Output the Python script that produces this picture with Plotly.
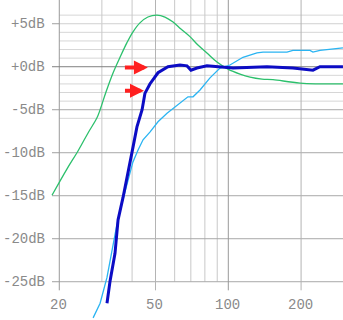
import math
import plotly.graph_objects as go

# ---------------- data ----------------
green_f = [18.66, 21.5, 23.9, 26.3, 28.6, 29.5, 31.2, 33.4, 35.7, 38.1, 40.3, 43.1, 46.5, 50.7,
           54.7, 59.1, 63.7, 69.4, 74.9, 81.6, 89.8, 99.7, 111.8, 123, 137.8, 153, 198, 298]
green_db = [-14.94, -11.9, -9.8, -7.7, -5.97, -5.0, -2.94, -0.7, 1.13, 2.8, 4.03, 5.1, 5.78, 6.0,
            5.78, 5.2, 4.38, 3.5, 2.52, 1.6, 0.55, -0.27, -0.85, -1.2, -1.43, -1.5, -1.9, -2.0]

blue_f = [31.5, 32.4, 34.0, 35.0, 36.7, 38.5, 40.0, 41.9, 44.0, 45.2, 47.4, 51.2, 56.3, 63.1, 67.5, 70.1,
          74.2, 81.6, 89.8, 104.6, 144.5, 185, 224, 239.4, 298]
blue_db = [-27.5, -25.0, -21.7, -17.8, -15.2, -12.4, -9.9, -7.0, -5.0, -3.1, -2.0, -0.7, 0.0, 0.2, 0.1, -0.4,
           -0.15, 0.1, 0.0, -0.15, 0.0, -0.15, -0.4, 0.0, 0.0]

cyan_f = [27.6, 29.5, 31.5, 33.4, 34.6, 36.3, 38.5, 40.3, 42.3, 44.4, 47.4, 51.2, 55.8, 60.2, 64.9, 68.1,
          71.5, 76.4, 84.0, 92.4, 101.6, 115.0, 131.4, 139.2, 174.9, 185, 217.7, 224, 239.4, 271, 298]
cyan_db = [-29.2, -27.5, -24.5, -20.5, -18.4, -15.9, -13.2, -11.1, -9.7, -8.5, -7.6, -6.4, -5.4, -4.7, -3.9, -3.5,
           -3.5, -2.7, -1.3, -0.15, 0.2, 1.1, 1.6, 1.7, 1.7, 1.9, 1.9, 1.7, 1.9, 2.1, 2.2]

# arrows mark the 0 dB and -3 dB points
arrow_f = [46.5, 44.8]
arrow_db = [-0.1, -2.8]

x_tick_vals = [20, 50, 100, 200]
x_tick_text = ["20", "50", "100", "200"]
x_minor_vals = [30, 40, 60, 70, 80, 90]

y_tick_vals = [5, 0, -5, -10, -15, -20, -25]
y_tick_text = ["+5dB", "+0dB", "-5dB", "-10dB", "-15dB", "-20dB", "-25dB"]
y_minor_vals = [6, 4, 3, 2, 1, -1, -2, -3, -4, -6]

# ---------------- layout constants ----------------
X_LO, X_HI = 1.0558, 2.4744          # log10 range
Y_LO, Y_HI = -29.45, 7.76
F_TICK = 18.66                       # where y tick marks start
F_LEFT = 20
F_RIGHT = 10 ** X_HI
DB_BOTTOM_MAJOR = -26.0
DB_BOTTOM_MINOR = -25.0

fig = go.Figure()


def seg(xs, ys, color, width=1, shape="linear"):
    fig.add_trace(go.Scatter(x=xs, y=ys, mode="lines", line=dict(color=color, width=width, shape=shape),
                             hoverinfo="skip", showlegend=False))


# horizontal minor lines
for v in y_minor_vals:
    seg([F_LEFT, F_RIGHT], [v, v], "#d6d6d6")
# vertical minor lines
for v in x_minor_vals:
    seg([v, v], [DB_BOTTOM_MINOR, Y_HI], "#c8c8c8")
# horizontal major lines
for v in y_tick_vals:
    if v == 0:
        continue
    col = "#d0d0d0" if v == 5 else "#a8a8a8"
    seg([F_LEFT, F_RIGHT], [v, v], col)
    seg([F_TICK, F_LEFT], [v, v], "#a0a0a0")
# vertical major lines
for v in x_tick_vals:
    col = "#999999" if v in (20, 100) else "#b4b4b4"
    seg([v, v], [DB_BOTTOM_MAJOR, Y_HI], col)
# 0 dB line
seg([F_TICK, F_RIGHT], [0, 0], "#808080")

# data curves
seg(green_f, green_db, "#2cc06c", 1.3, "spline")
seg(cyan_f, cyan_db, "#2ab4f2", 1.3)
seg(blue_f, blue_db, "#0c0cc4", 3)

font = dict(family="Liberation Mono, DejaVu Sans Mono, monospace", size=14, color="#8a8a8a")
ann = []
for v, t in zip(y_tick_vals, y_tick_text):
    ann.append(dict(x=math.log10(17.8), y=v, xref="x", yref="y", text=t, showarrow=False,
                    xanchor="right", yanchor="middle", font=font))
for v, t in zip(x_tick_vals, x_tick_text):
    ann.append(dict(x=math.log10(v), y=-27.75, xref="x", yref="y", text=t, showarrow=False,
                    xanchor="center", yanchor="middle", font=font, xshift=-1))
for f, d, off in zip(arrow_f, arrow_db, [-24, -20]):
    ann.append(dict(x=math.log10(f), y=d, xref="x", yref="y", text="", showarrow=True,
                    ax=off, ay=0, arrowhead=2, arrowsize=0.7, arrowwidth=4, arrowcolor="#ff2020",
                    width=1, height=1, borderpad=0))

fig.update_layout(
    width=343, height=320,
    margin=dict(l=0, r=0, t=0, b=0),
    paper_bgcolor="white", plot_bgcolor="white",
    xaxis=dict(type="log", range=[X_LO, X_HI], showgrid=False, zeroline=False,
               showticklabels=False, showline=False, fixedrange=True),
    yaxis=dict(range=[Y_LO, Y_HI], showgrid=False, zeroline=False,
               showticklabels=False, showline=False, fixedrange=True),
    annotations=ann,
    showlegend=False,
)

fig.write_html("out.html", config={"displayModeBar": False},
               post_script="document.body.style.margin='0';document.body.style.padding='0';")
